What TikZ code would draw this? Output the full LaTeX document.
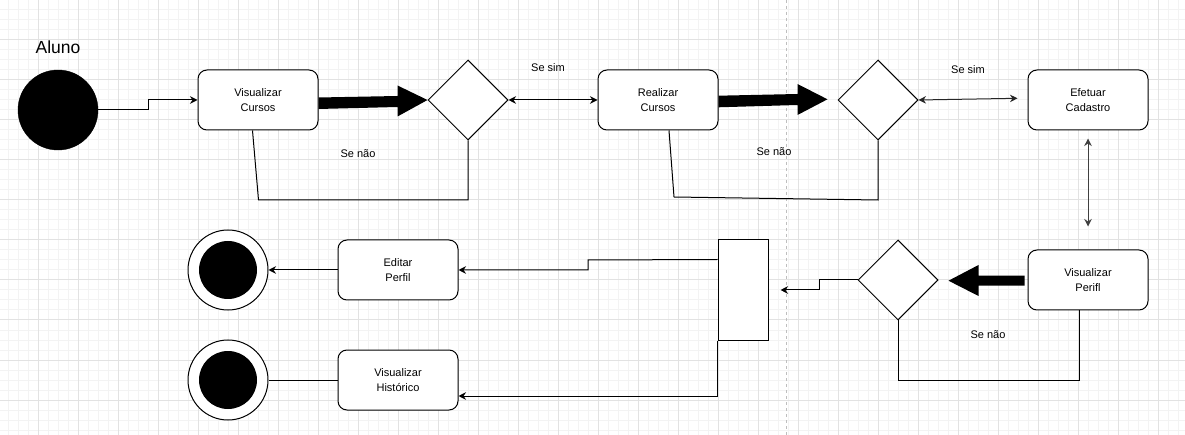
\documentclass[tikz,border=0pt]{standalone}
\usepackage{fontspec}
\setmainfont{Liberation Sans}
\usetikzlibrary{arrows.meta,shapes.geometric,calc}
\definecolor{gridminor}{RGB}{243,243,243}
\definecolor{gridmajor}{RGB}{226,226,226}
\definecolor{pageline}{RGB}{190,190,190}
\begin{document}
\begin{tikzpicture}[x=1pt,y=-1pt,
  box/.style={draw,line width=1pt,rounded corners=9pt,minimum width=120pt,minimum height=60pt,inner sep=0pt,align=center,fill=white,font=\fontsize{11}{15}\selectfont},
  dec/.style={draw,diamond,line width=1pt,minimum width=80pt,minimum height=80pt,inner sep=0pt,fill=white},
  lbl/.style={font=\fontsize{11}{13}\selectfont,inner sep=0pt},
  conn/.style={line width=1pt},
  arr/.style={-{Stealth[length=7.5pt,width=7.5pt,inset=2.5pt]}},
  darr/.style={{Stealth[length=7.5pt,width=7.5pt,inset=2.5pt]}-{Stealth[length=7.5pt,width=7.5pt,inset=2.5pt]}},
  bigarrow/.style={fill=black},
]
\useasboundingbox (0,0) rectangle (1185,435);
\fill[white] (0,0) rectangle (1185,435);
% grid
\foreach \x in {8,18,...,1178} \draw[gridminor,line width=1pt] (\x,0) -- (\x,435);
\foreach \y in {10,20,...,430} \draw[gridminor,line width=1pt] (0,\y) -- (1185,\y);
\foreach \x in {38,78,...,1158} \draw[gridmajor,line width=1pt] (\x,0) -- (\x,435);
\foreach \y in {0,40,...,400} \draw[gridmajor,line width=1pt] (0,\y) -- (1185,\y);
\draw[pageline,line width=1pt,dash pattern=on 3pt off 3pt] (786,0) -- (786,435);

% nodes
\node[circle,fill=black,draw,minimum size=80pt,inner sep=0pt] (start) at (58,110) {};
\node[font=\fontsize{17.5}{20}\selectfont,inner sep=0pt] (aluno) at (58,47) {Aluno};
\node[box] (VC) at (258,100) {Visualizar\\Cursos};
\node[dec] (D1) at (468,100) {};
\node[box] (RC) at (658,100) {Realizar\\Cursos};
\node[dec] (D2) at (878,100) {};
\node[box] (EC) at (1088,100) {Efetuar\\Cadastro};
\node[box] (VP) at (1088,280) {Visualizar\\Perifl};
\node[dec] (D3) at (898,280) {};
\node[draw,line width=1pt,fill=white,minimum width=50pt,minimum height=100pt,inner sep=0pt] (fork) at (743,290) {};
\node[box] (EP) at (398,270) {Editar\\Perfil};
\node[box] (VH) at (398,380) {Visualizar\\Histórico};
\node[circle,draw,line width=1pt,fill=white,minimum size=80pt,inner sep=0pt] (F1) at (228,270) {};
\node[circle,fill=black,minimum size=58pt,inner sep=0pt] (F1in) at (228,270) {};
\node[circle,draw,line width=1pt,fill=white,minimum size=80pt,inner sep=0pt] (F2) at (228,380) {};
\node[circle,fill=black,minimum size=58pt,inner sep=0pt] (F2in) at (228,380) {};

% labels
\node[lbl] (s1) at (548,68) {Se sim};
\node[lbl] (n1) at (358,154) {Se não};
\node[lbl] (s2) at (968,70) {Se sim};
\node[lbl] (n2) at (774,152) {Se não};
\node[lbl] (n3) at (988,335) {Se não};

% start -> VC
\coordinate (e1) at (148,110);
\draw[conn,arr] (start.east) -- (e1) -- (e1 |- VC.west) -- (VC.west);

% thick arrow VC -> D1
\fill[bigarrow] ($(VC.east)+(0,-2.5)$) -- ($(D1.west)+(-30,-4)$) -- ($(D1.west)+(-30,-14.5)$)
  -- (D1.west) -- ($(D1.west)+(-30,16.5)$) -- ($(D1.west)+(-30,7)$) -- ($(VC.east)+(0,9)$) -- cycle;

% D1 <-> RC
\draw[conn,darr] (D1.east) -- (RC.west);

% loop 1
\coordinate (l1a) at ($(VC.south)+(-5.5,0)$);
\coordinate (l1b) at (258.5,200);
\draw[conn] (l1a) -- (l1b) -- (l1b -| D1.south) -- (D1.south);

% thick arrow RC -> D2
\coordinate (t2) at ($(D2.west)+(-10,-0.7)$);
\fill[bigarrow] ($(RC.east)+(0,-4.3)$) -- ($(t2)+(-30,-5.3)$) -- ($(t2)+(-30,-15.3)$)
  -- (t2) -- ($(t2)+(-30,15.7)$) -- ($(t2)+(-30,5.7)$) -- ($(RC.east)+(0,7.3)$) -- cycle;

% D2 <-> EC
\coordinate (ecl) at ($(EC.west)+(-10,-1.7)$);
\draw[conn,darr,black!85] (D2.east) -- (ecl);

% loop 2
\coordinate (l2a) at ($(RC.south)+(11,0)$);
\coordinate (l2b) at (674,197);
\draw[conn] (l2a) -- (l2b) -- (D2.south |- 0,200) -- (D2.south);

% EC <-> VP
\coordinate (ecb) at ($(EC.south)+(0,8)$);
\coordinate (vpt) at ($(VP.north)+(0,-23)$);
\draw[conn,darr,black!75] (ecb) -- (vpt);

% thick arrow VP -> D3
\coordinate (t3) at ($(D3.east)+(10,0.7)$);
\fill[bigarrow] ($(VP.west)+(-3,-4.3)$) -- ($(t3)+(30,-5)$) -- ($(t3)+(30,-15.7)$)
  -- (t3) -- ($(t3)+(30,15.3)$) -- ($(t3)+(30,5)$) -- ($(VP.west)+(-3,5.7)$) -- cycle;

% loop 3
\coordinate (l3a) at ($(VP.south)+(-9,0)$);
\draw[conn] (D3.south) -- (D3.south |- 0,380) -- (l3a |- 0,380) -- (l3a);

% D3 -> fork
\coordinate (d3a) at (819,280);
\coordinate (fk) at ($(fork.east)+(12,0)$);
\draw[conn,arr] (D3.west) -- (d3a) -- (d3a |- fk) -- (fk);

% fork -> EP
\coordinate (fa) at ($(fork.north west)+(0,20)$);
\coordinate (fb) at (588,260);
\draw[conn,arr] (fa) -- (fb) -- (fb |- EP.east) -- (EP.east);

% fork -> VH
\coordinate (vhe) at ($(VH.east)+(0,16)$);
\draw[conn,arr] (fork.south west) -- (fork.south west |- vhe) -- (vhe);

% EP -> F1
\draw[conn,arr] (EP.west) -- (F1.east);
% VH -- F2
\draw[conn] (VH.west) -- (F2.east);
\end{tikzpicture}
\end{document}
